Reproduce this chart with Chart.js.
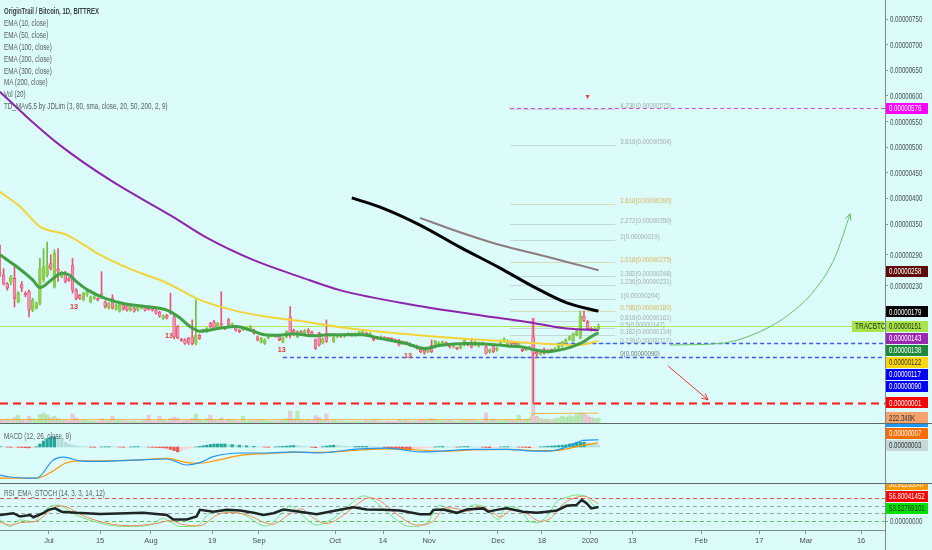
<!DOCTYPE html>
<html lang="en">
<head>
<meta charset="UTF-8">
<title>OriginTrail / Bitcoin, 1D, BITTREX</title>
<script src="https://cdn.jsdelivr.net/npm/chart.js"></script>
<style>
  html, body { margin: 0; padding: 0; }
  body { width: 932px; height: 550px; overflow: hidden; position: relative; background: #dcfbfb;
         font-family: "Liberation Sans", sans-serif; }
  canvas { position: absolute; left: 0; }
  #priceChart { top: 0; }
  #macdChart { top: 423px; }
  #rsiChart { top: 483px; }
  .sep { position: absolute; left: 0; width: 932px; height: 1px; background: #5f6b6b; }
  .vline { position: absolute; left: 885px; top: 0; width: 1px; height: 550px; background: #7f8b8b; }
  .legend, .pane-title { position: absolute; left: 4px; font-size: 8.5px; color: #59625f;
         transform: scaleX(0.74); transform-origin: 0 0; white-space: nowrap; }
  .legend { top: 6px; line-height: 11.9px; }
  .legend .sym { color: #3c4443; font-weight: bold; transform: scaleX(0.95); transform-origin: 0 0; }
</style>
</head>
<body>
<canvas id="priceChart" width="932" height="423"></canvas>
<canvas id="macdChart" width="932" height="60"></canvas>
<canvas id="rsiChart" width="932" height="67"></canvas>
<div class="sep" style="top:423px"></div>
<div class="sep" style="top:483px"></div>
<div class="vline"></div>
<div class="legend">
  <div class="sym">OriginTrail / Bitcoin, 1D, BITTREX</div>
  <div>EMA (10, close)</div>
  <div>EMA (50, close)</div>
  <div>EMA (100, close)</div>
  <div>EMA (200, close)</div>
  <div>EMA (300, close)</div>
  <div>MA (200, close)</div>
  <div>Vol (20)</div>
  <div>TD_MAv5.5 by JDLim (3, 80, sma, close, 20, 50, 200, 2, 9)</div>
</div>
<div class="pane-title" style="top:431px">MACD (12, 26, close, 9)</div>
<div class="pane-title" style="top:488px">RSI_EMA_STOCH (14, 3, 3, 14, 12)</div>

<script>
  // prices are in satoshi (1e-8 BTC), x is the bar index
  const candles = [ // [open, high, low, close]
    [255,309,248,252],[250,263,231,234],[234,236,221,225],[237,250,231,247],[244,267,188,205],
    [198,218,196,215],[232,238,218,225],[213,218,208,212],[218,221,169,182],[182,205,179,202],
    [186,198,184,195],[195,283,192,263],[241,302,237,267],[250,315,247,270],[273,290,260,264],
    [228,300,225,293],[262,302,238,258],[247,258,245,254],[254,258,235,238],[243,246,238,240],
    [269,283,215,221],[221,224,202,205],[211,213,203,205],[202,217,200,215],[211,220,209,218],
    [198,210,196,208],[205,210,203,208],[204,206,200,202],[212,257,205,211],[198,200,186,189],
    [186,197,184,195],[205,212,184,186],[184,194,182,192],[180,195,178,193],[192,194,182,184],
    [190,192,180,182],[182,191,180,189],[186,188,178,180],[182,191,180,189],[186,192,184,190],
    [189,191,180,182],[186,190,182,184],[185,188,180,182],[182,184,174,176],[178,180,168,170],
    [166,173,164,171],[172,174,165,167],[177,215,174,176],[169,172,126,130],[150,152,126,128],
    [125,127,121,123],[124,126,115,117],[127,129,115,118],[130,163,114,117],[117,202,114,133],
    [133,135,125,127],[140,145,138,143],[140,148,138,146],[156,158,148,150],[159,162,143,145],
    [150,158,148,156],[154,218,150,153],[148,150,144,146],[163,166,152,154],[150,157,148,155],
    [150,152,141,143],[142,144,138,140],[144,147,142,145],[145,149,143,147],[143,152,141,150],
    [143,145,135,137],[130,132,122,124],[120,129,118,127],[117,126,115,124],[128,132,126,130],
    [132,136,130,134],[131,133,129,130],[130,132,122,124],[120,129,118,127],[130,142,128,140],
    [169,189,128,137],[143,145,132,134],[130,142,128,140],[140,142,135,137],[138,144,136,142],
    [140,146,136,139],[139,141,132,134],[124,126,105,108],[137,139,112,114],[118,128,116,126],
    [137,163,119,121],[134,136,131,133],[121,132,119,130],[130,135,128,133],[133,135,129,131],
    [131,136,129,134],[134,138,132,136],[135,137,131,133],[133,138,131,136],[136,140,134,138],
    [138,141,136,139],[137,139,131,133],[134,138,132,136],[125,127,122,124],[129,131,125,127],
    [127,132,125,130],[128,130,125,127],[127,129,124,126],[126,128,122,124],[124,126,119,121],
    [123,125,112,114],[117,122,115,120],[118,120,115,117],[116,118,111,113],[113,115,111,113],
    [112,114,106,108],[108,110,99,101],[104,106,96,98],[101,109,99,107],[113,124,99,101],
    [110,123,108,121],[112,120,110,118],[114,122,112,120],[118,120,114,116],[111,113,108,110],
    [110,113,108,111],[108,110,105,107],[108,115,106,113],[114,126,112,124],[117,119,112,114],
    [117,127,108,110],[114,122,112,120],[112,119,110,117],[117,119,114,116],[111,113,96,98],
    [100,106,98,104],[114,116,99,101],[104,110,102,108],[118,124,116,122],[121,128,119,126],
    [115,124,113,122],[120,122,114,116],[117,119,110,112],[112,119,110,117],[104,106,101,103],
    [105,110,103,108],[108,112,106,110],[130,166,1,98],[100,104,92,96],[96,105,94,103],
    [106,108,96,98],[100,106,98,104],[104,106,101,103],[103,109,101,107],[108,115,106,113],
    [112,121,110,119],[119,126,117,124],[125,132,123,130],[122,137,120,135],[134,142,132,140],
    [128,180,126,170],[170,180,160,162],[158,162,144,146],[146,148,141,143],[143,148,141,146],
    [145,155,143,151]
  ];
  const volume = [ // thousands
    150,120,180,140,260,350,130,90,300,200,160,
    380,440,360,250,300,200,120,150,100,400,
    220,110,140,100,90,80,70,200,110,120,
    300,90,130,100,80,70,90,60,80,120,
    350,100,90,300,120,80,200,260,220,90,
    110,120,200,400,150,100,180,350,150,110,
    220,90,160,120,100,80,300,90,120,100,
    150,130,110,90,80,70,100,120,200,530,
    180,530,120,100,140,90,330,250,120,400,
    100,130,90,80,70,60,80,90,70,60,
    120,80,150,90,70,60,80,70,60,150,
    90,120,80,70,110,160,140,130,200,150,
    110,90,80,120,70,60,90,130,110,160,
    100,80,70,450,120,180,100,110,120,150,
    130,120,350,110,150,180,4660,300,200,160,
    180,140,200,220,300,260,320,280,380,450,
    420,330,250,200,222.348
  ];
  const volMaPts = [[0,150],[146,150],[147,420],[165,440]];

  const ema10Pts = [[0,290],[4,270],[9,241],[11,226],[14,240],[17,254],[19,251],[21,238],[24,222],[29,205],[34,195],[40,189],[46,182],[49,170],[53,147],[55,141],[60,146],[65,150],[69,143],[73,134],[77,133],[81,136],[86,132],[91,134],[100,134],[104,128],[112,117],[117,107],[121,113],[129,117],[134,116],[140,112],[144,110],[147,105],[151,101],[156,107],[160,117],[163,130],[165,138]];
  const ema50Pts = [[0,413],[5.5,384],[11,345],[18.4,329],[27.6,290],[36.7,260],[46,235],[55.1,202],[64.2,182],[73.6,169],[82.7,161],[95.6,147],[113.9,134],[132.3,124],[148.9,117],[159.9,114],[165,122]];
  const ema100Pts = [[0,608],[7.7,557],[16.5,504],[30.3,436],[47.7,364],[57.1,323],[69.8,280],[82.7,247],[93.7,221],[113.9,192],[132.3,172],[147,157],[156.3,146],[165,143]];
  const ema200Pts = [[97,401],[104.8,383],[115.8,348],[126.8,305],[137.9,264],[147,228],[156.3,196],[165,180]];
  const ema300Pts = [[115.8,362],[126.8,334],[137.9,309],[147,293],[156.3,276],[165,260]];

  const upArrowPts = [[184.7,114],[198.5,117],[209.5,140],[217.8,175],[224.7,222],[230.2,285],[234.4,370]];
  const downArrowPts = [[184.2,73],[195.2,7]];

  const fibRatios = ['0','0.236','0.382','0.5','0.618','0.786','1','1.236','1.382','1.618','2','2.272','2.618','3.618','4.236'];
  const fibValues = [90,117,134,147,161,180,204,231,248,275,319,350,390,504,575];
  const tdMarks = [[20.4,189],[46.6,131.5],[77.7,104],[112.5,92.5]];

  const macdPts = [[0,-47],[2.8,-50],[10.1,-52],[14.6,-22],[17.5,-17],[22,-23],[27.6,-24],[36.8,-22],[46,-20],[51.5,-30],[55.1,-26],[58.8,-16],[66.2,-10],[73.5,-10],[80.9,-8],[88.2,-10],[91.9,-8],[99.3,-3],[106.6,-2],[115.8,-8],[121.3,-7],[130.5,-4],[139.7,-4],[148.9,-7],[152.6,-6],[156.2,0],[160.8,11],[165,12]];
  const signalPts = [[0,-52],[10.1,-52],[14.6,-40],[18,-27],[22,-23],[27.6,-23],[36.8,-22],[46,-19],[51.5,-26],[55.1,-27],[60,-22],[66.2,-14],[73.5,-11],[80.9,-9],[88.2,-9],[99.3,-5],[106.6,-3],[115.8,-5],[121.3,-7],[130.5,-5],[139.7,-4],[148.9,-6],[152.6,-6],[156.2,-3],[160.8,3],[165,7]];
  const macdHist = [
    0.5,0.3,-0.2,-0.5,-0.3,-0.6,-0.8,-1.2,-1.5,-0.8,0.5,
    5,10,14,17,17,15,12,8,5,3,2,1,0.5,
    0.3,-0.3,-0.5,-0.4,0.2,0.4,0.6,0.5,0.3,-0.2,-0.4,-0.3,0.2,0.5,0.6,0.4,0.2,-0.2,-0.5,-0.8,-1,-1.5,
    -2,-4,-6,-8,-6,-4,-2,-1,0,1,2,
    3,4,5,5,5,5,4,4,3,3,2,2,1,1,
    0.5,0.3,-0.3,-0.5,-0.2,0.3,0.5,1,1.5,2,
    2.5,2,1.5,1,0.5,-0.5,-1,-0.5,0.5,1.5,2.5,3,2.5,2,1.5,1,0.5,0.8,1,1,
    1,0.8,0.5,0.3,0,-0.5,-1,-1.5,
    -2,-3,-4,-5,-5,-4,-3,-2,-1.5,-1,
    -0.5,0.3,0.5,0.8,0.6,0.3,0,-0.3,0.3,0.6,0.8,0.5,0.3,0,-0.4,-0.8,-1,-0.8,-0.5,0,0.5,0.6,0.4,0.2,-0.2,-0.5,-0.8,-1,-0.6,-0.2,0.2,0.5,
    1,1.5,2,2.5,3,
    3.5,5,6,7,8,8,7,6,5,3
  ];

  const rsiPts = [[0,35],[3.7,40],[5.5,31],[8.3,35],[9.2,29],[11.9,40],[13.3,49],[15.2,53],[17,44],[21.1,41],[27.6,38],[34.9,40],[39.5,41],[46,35],[47.8,23],[51.5,23],[54.2,31],[55.1,49],[58.8,44],[62.5,49],[66.2,47],[69.9,41],[72.6,35],[75.4,40],[78.1,50],[82.7,44],[87.3,37],[91.9,46],[97.4,56],[101.1,50],[105.7,49],[110.3,47],[115.8,37],[118.6,37],[119.5,49],[122.2,50],[125.9,41],[128.7,50],[133.3,53],[134.6,44],[136.9,49],[139.7,53],[144.2,44],[148,41],[150.7,44],[153.5,47],[156.2,60],[158.9,62],[160.4,76],[161.7,67],[163,53],[165,57]];
  const stochKPts = [[0,22],[2.8,4],[5.5,22],[9.2,17],[11.9,44],[13.8,58],[15.6,62],[21.1,35],[27.6,13],[34.9,4],[41.4,8],[45,26],[46.9,17],[49.6,4],[54.2,5],[57.9,40],[60.7,44],[66.2,40],[73.5,5],[78.1,44],[80,60],[82.7,40],[87.3,8],[91.9,26],[97.4,71],[100.2,87],[102.9,76],[106.6,44],[113.1,4],[117.6,13],[121.3,62],[124.1,49],[126.8,40],[130.5,62],[133.3,58],[136,31],[137.4,23],[139.7,58],[143.4,49],[146.1,17],[148,14],[150.7,31],[153.5,71],[156.2,83],[158.9,89],[161.7,85],[163.5,62],[165,56]];
  const stochDPts = [[0,15],[3,8],[6,15],[10,18],[13,40],[16,60],[18,58],[23,33],[29,14],[36,6],[43,12],[47,20],[50,10],[55,6],[60,36],[63,42],[68,36],[75,10],[80,38],[83,52],[86,30],[90,12],[94,30],[99,68],[102,82],[105,72],[109,40],[115,8],[119,15],[123,55],[126,52],[129,45],[132,58],[135,48],[138,30],[141,48],[145,40],[149,18],[152,28],[155,62],[158,80],[161,86],[163.5,75],[165,65]];
  const rsiLevels = [80, 60, 40, 20];

  const dateTickPos = [13.5,27.6,41.6,58.5,71.4,92.4,105.6,118.3,137.3,149.4,162.7,174.3,193.3,209.3,222.2,237.4];
  const dateTickLabels = ['Jul','15','Aug','19','Sep','Oct','14','Nov','Dec','18','2020','13','Feb','17','Mar','16'];
  const priceTicks = [750,700,650,600,550,500,450,400,350,290,230];
  const rsiAxisTicks = [18.9];

  const priceTags = [576, 258, 179, 151, 143, 138, 122, 117, 90, 1];
  const volTag = 222.348;
  const macdTags = [10, 7, 3];
  const rsiTags = [58.91263047, 56.80041452, 53.52769101];

  // ---------- look ----------
  const FONT = '"Liberation Sans", sans-serif';
  const NARROW = 0.68;
  Chart.defaults.font.family = FONT;
  Chart.defaults.font.size = 8;
  const X_MIN = 0, X_MAX = 244;
  const AXIS_W = 47;
  const toPrice = v => (v * 1e-8).toFixed(8);
  const pts = arr => arr.map(p => ({ x: p[0], y: p[1] }));
  const isBull = c => c[3] >= c[0];

  const priceTagStyle = [
    ['#ff00ff','#fff'],['#5e0b0b','#fff'],['#000000','#fff'],['#a9e34b','#1d2a10'],['#9c27b0','#fff'],
    ['#1f8a3a','#fff'],['#ffd60a','#333'],['#0000ff','#fff'],['#0000ff','#fff'],['#ff0000','#fff']
  ];
  const drawnLines = [
    { value: 576, from: 140.6, color: '#d24ce8', dash: [4, 3], width: 1 },
    { value: 151, from: 0, color: '#b5e85e', dash: [], width: 1 },
    { value: 117, from: 153.6, color: '#3d5afe', dash: [4, 3], width: 1.3 },
    { value: 90, from: 78, color: '#3d5afe', dash: [4, 3], width: 1.3 },
    { value: 1, from: 0, color: '#ff1a1a', dash: [8, 5], width: 2 }
  ];
  const FIB_FROM = 140.6, FIB_TO = 169.6, FIB_TEXT = 171;
  const fibColor = r => (r === '0.786' || r === '1.618' || r === '2.618') ? '#d9b45a' : (r === '0' ? '#6f7777' : '#a4aeae');

  function fixAxisWidth(s) { s.width = AXIS_W; s.paddingTop = 0; s.paddingBottom = 0; }

  // condensed text, like the narrow face of the original
  function narrowText(ctx, text, x, y, sx) {
    ctx.save();
    ctx.translate(x, y);
    ctx.scale(sx || NARROW, 1);
    ctx.fillText(text, 0, 0);
    ctx.restore();
  }

  function drawAxisLabels(chart, scale, fmt) {
    const ctx = chart.ctx;
    ctx.save();
    ctx.font = '9px ' + FONT;
    ctx.fillStyle = '#45504f';
    ctx.textBaseline = 'middle';
    scale.ticks.forEach(t => narrowText(ctx, fmt(t.value), chart.chartArea.right + 5, scale.getPixelForValue(t.value) + 0.5));
    ctx.restore();
  }

  function drawTags(chart, scale, tags, upward) {
    const ctx = chart.ctx, H = 12, X = chart.chartArea.right + 1, W = 42;
    const items = tags.map(t => Object.assign({}, t, { py: scale.getPixelForValue(t.value) }));
    if (upward) {
      let lim = Infinity;
      for (let k = items.length - 1; k >= 0; k--) { items[k].py = Math.min(items[k].py, lim); lim = items[k].py - H; }
    } else {
      let lim = -Infinity;
      for (let k = 0; k < items.length; k++) { items[k].py = Math.max(items[k].py, lim); lim = items[k].py + H; }
    }
    ctx.save();
    ctx.font = '9px ' + FONT;
    ctx.textBaseline = 'middle';
    items.forEach(t => {
      ctx.fillStyle = t.bg;
      ctx.fillRect(X, Math.round(t.py - 5.5), W, 11);
      ctx.fillStyle = t.fg;
      narrowText(ctx, t.text, X + 3, t.py + 0.5);
    });
    ctx.restore();
    return items;
  }

  function arrowHead(ctx, a, b, color) {
    const ang = Math.atan2(b.y - a.y, b.x - a.x), L = 7;
    ctx.strokeStyle = color;
    ctx.lineWidth = 1;
    ctx.beginPath();
    ctx.moveTo(b.x - L * Math.cos(ang - 0.45), b.y - L * Math.sin(ang - 0.45));
    ctx.lineTo(b.x, b.y);
    ctx.lineTo(b.x - L * Math.cos(ang + 0.45), b.y - L * Math.sin(ang + 0.45));
    ctx.stroke();
  }

  const priceOverlay = {
    id: 'priceOverlay',
    beforeDatasetsDraw(chart) {
      const { ctx, chartArea: area, scales: { x, y } } = chart;
      ctx.save();
      ctx.lineWidth = 1;
      fibRatios.forEach((r, k) => {
        const py = Math.round(y.getPixelForValue(fibValues[k])) + 0.5;
        ctx.strokeStyle = fibColor(r);
        ctx.globalAlpha = 0.45;
        ctx.beginPath();
        ctx.moveTo(x.getPixelForValue(FIB_FROM), py);
        ctx.lineTo(x.getPixelForValue(FIB_TO), py);
        ctx.stroke();
      });
      ctx.globalAlpha = 1;
      drawnLines.forEach(l => {
        const py = Math.round(y.getPixelForValue(l.value)) + 0.5;
        ctx.strokeStyle = l.color;
        ctx.lineWidth = l.width;
        ctx.setLineDash(l.dash);
        ctx.beginPath();
        ctx.moveTo(x.getPixelForValue(l.from), py);
        ctx.lineTo(area.right, py);
        ctx.stroke();
      });
      ctx.restore();
    },
    afterDatasetsDraw(chart) {
      const { ctx, scales: { x, y } } = chart;
      ctx.save();
      chart.data.datasets.forEach((ds, k) => {
        if (!ds.arrow) return;
        const p = chart.getDatasetMeta(k).data;
        arrowHead(ctx, p[p.length - 2], p[p.length - 1], ds.arrow);
      });
      ctx.font = '8px ' + FONT;
      ctx.textBaseline = 'bottom';
      fibRatios.forEach((r, k) => {
        ctx.fillStyle = fibColor(r);
        narrowText(ctx, r + '(' + toPrice(fibValues[k]) + ')', x.getPixelForValue(FIB_TEXT), y.getPixelForValue(fibValues[k]) + 1, 0.76);
      });
      ctx.font = 'bold 8px ' + FONT;
      ctx.fillStyle = '#e53935';
      ctx.textAlign = 'center';
      ctx.textBaseline = 'middle';
      tdMarks.forEach(m => narrowText(ctx, '13', x.getPixelForValue(m[0]), y.getPixelForValue(m[1]), 0.9));
      // small sell marker above the 4.236 level
      const mx = x.getPixelForValue(162), my = y.getPixelForValue(598);
      ctx.beginPath();
      ctx.moveTo(mx - 2, my - 2); ctx.lineTo(mx + 2, my - 2); ctx.lineTo(mx, my + 2); ctx.closePath();
      ctx.fill();
      ctx.restore();
    },
    afterDraw(chart) {
      const { ctx, scales: { y, yv } } = chart;
      drawAxisLabels(chart, y, toPrice);
      const items = drawTags(chart, y, priceTags.map((v, k) => ({ value: v, text: toPrice(v), bg: priceTagStyle[k][0], fg: priceTagStyle[k][1] })), false);
      drawTags(chart, yv, [{ value: volTag, text: volTag.toFixed(3) + 'K', bg: '#f6a36b', fg: '#333' }], false);
      // symbol tag next to the last price
      const last = items[priceTags.indexOf(151)];
      ctx.save();
      ctx.fillStyle = '#a9e34b';
      ctx.fillRect(chart.chartArea.right - 33, Math.round(last.py - 5.5), 32, 11);
      ctx.fillStyle = '#1d2a10';
      ctx.font = '9px ' + FONT;
      ctx.textBaseline = 'middle';
      narrowText(ctx, 'TRACBTC', chart.chartArea.right - 30, last.py + 0.5, 0.72);
      ctx.restore();
    }
  };

  const lineDs = (data, color, width, extra) => Object.assign({
    type: 'line', data: pts(data), borderColor: color, borderWidth: width,
    pointRadius: 0, fill: false, cubicInterpolationMode: 'monotone'
  }, extra || {});

  new Chart(document.getElementById('priceChart'), {
    type: 'line',
    data: {
      datasets: [
        { type: 'bar', yAxisID: 'yv', data: volume.map((v, i) => ({ x: i, y: v })),
          backgroundColor: candles.map(c => isBull(c) ? 'rgba(120,200,60,0.35)' : 'rgba(240,110,130,0.32)'),
          barThickness: 3.5, grouped: false, order: 10 },
        lineDs(volMaPts, 'rgba(255,152,0,0.7)', 1, { yAxisID: 'yv', order: 9, cubicInterpolationMode: 'default', tension: 0 }),
        { type: 'bar', data: candles.map((c, i) => ({ x: i, y: [c[2], c[1]] })),
          backgroundColor: candles.map(c => isBull(c) ? '#6fbf3a' : '#e8566f'),
          barThickness: 1, grouped: false, order: 8 },
        { type: 'bar', data: candles.map((c, i) => ({ x: i, y: [Math.min(c[0], c[3]), Math.max(c[0], c[3])] })),
          backgroundColor: candles.map(c => isBull(c) ? '#8fd14f' : '#f48fb1'),
          borderColor: candles.map(c => isBull(c) ? '#7cc23f' : '#e5395a'),
          borderWidth: 0.6, borderSkipped: false, minBarLength: 1.5,
          barThickness: 2.8, grouped: false, order: 7 },
        lineDs(ema300Pts, '#8e7b7d', 2, { order: 5 }),
        lineDs(ema200Pts, '#000000', 3, { order: 4 }),
        lineDs(ema100Pts, '#8e24aa', 2, { order: 3 }),
        lineDs(ema50Pts, '#f3d43a', 2, { order: 2 }),
        lineDs(ema10Pts, '#43a047', 3, { order: 1 }),
        lineDs(upArrowPts, '#66c266', 1, { order: 0, arrow: '#66c266' }),
        lineDs(downArrowPts, '#e53935', 1, { order: 0, arrow: '#e53935', cubicInterpolationMode: 'default', tension: 0 })
      ]
    },
    options: {
      responsive: false, animation: false, events: [],
      layout: { padding: 0 },
      plugins: { legend: { display: false }, tooltip: { enabled: false } },
      scales: {
        x: { type: 'linear', min: X_MIN, max: X_MAX, offset: false, display: false },
        y: {
          position: 'right', min: -38.2, max: 787.1,
          afterBuildTicks: ax => { ax.ticks = priceTicks.map(v => ({ value: v })); },
          afterFit: fixAxisWidth,
          ticks: { display: false },
          grid: { drawOnChartArea: false, tickLength: 3, color: '#8a9696' },
          border: { display: false }
        },
        yv: { position: 'right', display: false, min: 0, max: 18800 }
      }
    },
    plugins: [priceOverlay]
  });

  const macdOverlay = {
    id: 'macdOverlay',
    afterDraw(chart) {
      const s = [['#2196f3', '#fff'], ['#ff6d00', '#fff'], ['#c5d7d7', '#333']];
      drawTags(chart, chart.scales.y, macdTags.map((v, k) => ({ value: v, text: toPrice(v), bg: s[k][0], fg: s[k][1] })), true);
    }
  };

  new Chart(document.getElementById('macdChart'), {
    type: 'line',
    data: {
      datasets: [
        { type: 'bar', data: macdHist.map((v, i) => ({ x: i, y: v })),
          backgroundColor: macdHist.map((v, i) => {
            const prev = i ? macdHist[i - 1] : 0;
            return v >= 0 ? (v >= prev ? '#26a69a' : '#b2dfdb') : (v <= prev ? '#ef5350' : '#ffcdd2');
          }),
          barThickness: 2.6, grouped: false, order: 5 },
        lineDs(signalPts, '#ff9800', 1.2, { order: 2 }),
        lineDs(macdPts, '#2196f3', 1.2, { order: 1 })
      ]
    },
    options: {
      responsive: false, animation: false, events: [],
      layout: { padding: 0 },
      plugins: { legend: { display: false }, tooltip: { enabled: false } },
      scales: {
        x: { type: 'linear', min: X_MIN, max: X_MAX, offset: false, display: false },
        y: { position: 'right', min: -60, max: 40, afterFit: fixAxisWidth,
             ticks: { display: false }, grid: { display: false }, border: { display: false } }
      }
    },
    plugins: [macdOverlay]
  });

  const rsiOverlay = {
    id: 'rsiOverlay',
    beforeDatasetsDraw(chart) {
      const { ctx, chartArea: area, scales: { y } } = chart;
      const colors = ['#ef5350', '#9aa3a3', '#9aa3a3', '#5cc55c'];
      ctx.save();
      ctx.lineWidth = 1;
      ctx.setLineDash([4, 3]);
      rsiLevels.forEach((v, k) => {
        const py = Math.round(y.getPixelForValue(v)) + 0.5;
        ctx.strokeStyle = colors[k];
        ctx.beginPath(); ctx.moveTo(area.left, py); ctx.lineTo(area.right, py); ctx.stroke();
      });
      ctx.restore();
    },
    afterDraw(chart) {
      drawAxisLabels(chart, chart.scales.y, () => '0.00000000');
      const s = [['#ff9800', '#fff'], ['#ff0000', '#fff'], ['#00e000', '#1b2b1b']];
      drawTags(chart, chart.scales.y, rsiTags.map((v, k) => ({ value: v, text: v.toFixed(8), bg: s[k][0], fg: s[k][1] })), true);
    }
  };

  new Chart(document.getElementById('rsiChart'), {
    type: 'line',
    data: {
      datasets: [
        lineDs(stochKPts, '#7ee07e', 1, { order: 3 }),
        lineDs(stochDPts, '#f08a5d', 1, { order: 2 }),
        lineDs(rsiPts, '#1f2424', 2.5, { order: 1, cubicInterpolationMode: 'default', tension: 0 })
      ]
    },
    options: {
      responsive: false, animation: false, events: [],
      layout: { padding: 0 },
      plugins: { legend: { display: false }, tooltip: { enabled: false } },
      scales: {
        x: {
          type: 'linear', min: X_MIN, max: X_MAX, offset: false, position: 'bottom',
          afterBuildTicks: ax => { ax.ticks = dateTickPos.map(v => ({ value: v })); },
          afterFit: s => { s.height = 20; s.paddingLeft = 0; s.paddingRight = 0; },
          ticks: { callback: (v, k) => dateTickLabels[k], color: '#45504f', autoSkip: false, maxRotation: 0, padding: 2, font: { size: 7.5 } },
          grid: { drawOnChartArea: false, tickLength: 4, color: '#8a9696' },
          border: { color: '#7f8b8b' }
        },
        y: {
          position: 'right', min: -5.4, max: 121.6, afterFit: fixAxisWidth,
          afterBuildTicks: ax => { ax.ticks = rsiAxisTicks.map(v => ({ value: v })); },
          ticks: { display: false },
          grid: { drawOnChartArea: false, tickLength: 3, color: '#8a9696' },
          border: { display: false }
        }
      }
    },
    plugins: [rsiOverlay]
  });
</script>
</body>
</html>
